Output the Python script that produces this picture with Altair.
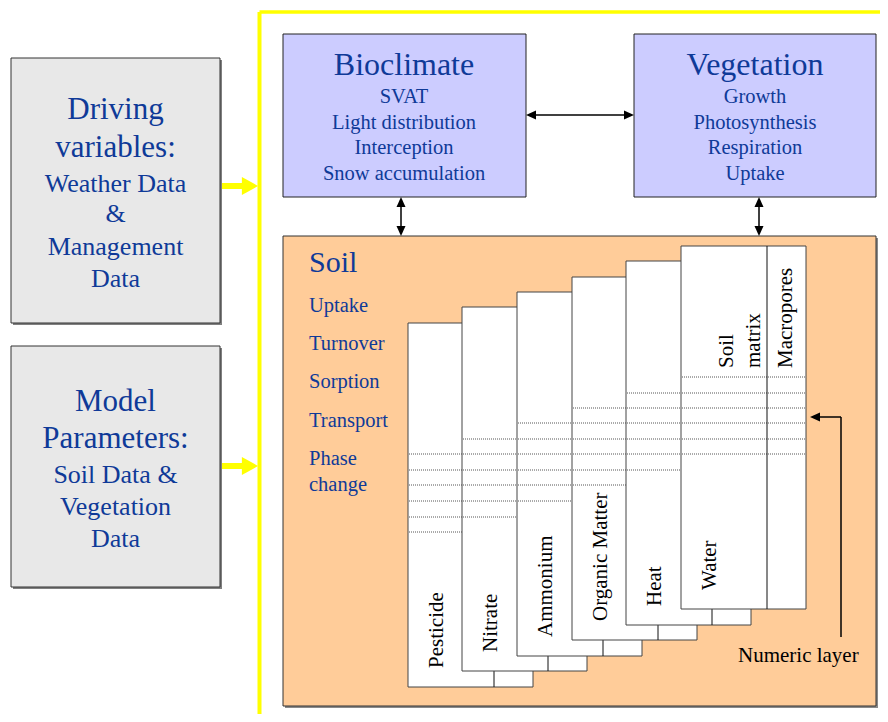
import altair as alt
import pandas as pd

# ---------------- content (text of the diagram) ----------------
driving_lines = ["Driving", "variables:", "Weather Data", "&", "Management", "Data"]
param_lines = ["Model", "Parameters:", "Soil Data &", "Vegetation", "Data"]
bioclimate_lines = ["Bioclimate", "SVAT", "Light distribution", "Interception", "Snow accumulation"]
vegetation_lines = ["Vegetation", "Growth", "Photosynthesis", "Respiration", "Uptake"]
soil_lines = ["Soil", "Uptake", "Turnover", "Sorption", "Transport", "Phase", "change"]
layer_names = ["Pesticide", "Nitrate", "Ammonium", "Organic Matter", "Heat", "Water"]
water_parts = ["Soil", "matrix", "Macropores"]
numeric_label = ["Numeric layer"]

# ---------------- layout (page pixel coordinates) ----------------
W, H, OFF = 872, 706, 8
FONT = "Liberation Serif"
BLUE_TXT = "#0f3a98"

driving_base = [119, 157, 192, 222, 255, 287]
driving_size = [31, 31, 26, 26, 26, 26]
param_base = [411, 448, 483, 515, 547]
param_size = [31, 31, 26, 26, 26]
box_base = [75, 103, 129, 154, 180]
box_size = [32, 20.5, 20.5, 20.5, 20.5]
soil_base = [272, 312, 350, 388, 427, 465, 491]
soil_size = [30, 20.5, 20.5, 20.5, 20.5, 20.5, 20.5]

card_left = [408, 462, 517, 572, 626, 681]
card_top = [323, 307, 292, 277, 261, 246]
card_bottom = [687, 671, 656, 640, 625, 609]
card_w = 125
card_div = 86
card_dots = [
    [454, 470, 485, 501, 517, 532],
    [439, 454, 470, 485, 501, 517],
    [423, 439, 454, 470, 485, 501],
    [408, 423, 439, 454, 470, 485],
    [393, 408, 423, 439, 454, 470],
    [377, 393, 408, 423, 439, 454],
]

XS = alt.Scale(domain=[OFF, OFF + W], nice=False, zero=False)
YS = alt.Scale(domain=[OFF, OFF + H], nice=False, zero=False, reverse=True)


def X(f):
    return alt.X(f"{f}:Q", scale=XS, axis=None)


def Y(f):
    return alt.Y(f"{f}:Q", scale=YS, axis=None)


def rects(rows, fill, stroke=None, sw=1):
    df = pd.DataFrame(rows, columns=["x0", "x1", "y0", "y1"])
    kw = dict(fill=fill, opacity=1)
    if stroke:
        kw.update(stroke=stroke, strokeWidth=sw)
    else:
        kw.update(strokeWidth=0)
    return alt.Chart(df).mark_rect(**kw).encode(
        x=X("x0"), x2=alt.X2("x1:Q"), y=Y("y0"), y2=alt.Y2("y1:Q"))


def rules(rows, color, sw=1, dash=None):
    df = pd.DataFrame(rows, columns=["x0", "x1", "y0", "y1"])
    kw = dict(color=color, strokeWidth=sw)
    if dash:
        kw["strokeDash"] = dash
    return alt.Chart(df).mark_rule(**kw).encode(
        x=X("x0"), x2=alt.X2("x1:Q"), y=Y("y0"), y2=alt.Y2("y1:Q"))


def texts(rows, align="center", angle=0, color=BLUE_TXT):
    df = pd.DataFrame(rows, columns=["t", "x", "y", "s"])
    return alt.Chart(df).mark_text(font=FONT, align=align, baseline="alphabetic",
                                   angle=angle, color=color).encode(
        x=X("x"), y=Y("y"), text=alt.Text("t:N"), size=alt.Size("s:Q", scale=None))


def heads(rows, path, size, color):
    df = pd.DataFrame(rows, columns=["x", "y", "a"])
    return alt.Chart(df).mark_point(shape=path, filled=True, opacity=1, color=color,
                                    size=size, strokeWidth=0).encode(
        x=X("x"), y=Y("y"), angle=alt.Angle("a:Q", scale=None))


TRI_BLACK = "M-1,-0.9L1,0L-1,0.9Z"
TRI_YELLOW = "M-0.9,-1L0.9,0L-0.9,1Z"
YELLOW = "#ffff00"

layers = []
# yellow frame + arrows
layers.append(rules([[259.5, 890, 12, 12]], YELLOW, 3.5))
layers.append(rules([[259.5, 259.5, 12, 730]], YELLOW, 4))
layers.append(rules([[220, 245, 186, 186], [220, 245, 466, 466]], YELLOW, 6))
layers.append(heads([[250, 186, 0], [250, 466, 0]], TRI_YELLOW, 324, YELLOW))

# grey input boxes
layers.append(rects([[13, 222, 60, 325], [13, 222, 348, 589]], "#808080"))
layers.append(rects([[11, 220, 58, 323], [11, 220, 346, 587]], "#e8e8e8", "#333333", 1))
layers.append(texts([[t, 115.5, b, s] for t, b, s in zip(driving_lines, driving_base, driving_size)]))
layers.append(texts([[t, 115.5, b, s] for t, b, s in zip(param_lines, param_base, param_size)]))

# blue process boxes
layers.append(rects([[283, 526, 34, 197], [634, 876, 34, 197]], "#ccccff", "#222222", 1))
layers.append(texts([[t, 404, b, s] for t, b, s in zip(bioclimate_lines, box_base, box_size)]))
layers.append(texts([[t, 755, b, s] for t, b, s in zip(vegetation_lines, box_base, box_size)]))

# soil box
layers.append(rects([[285, 878, 238, 708]], "#8a8a8a"))
layers.append(rects([[283, 876, 236, 706]], "#ffcc99", "#333333", 1))
layers.append(texts([[t, 309, b, s] for t, b, s in zip(soil_lines, soil_base, soil_size)], align="left"))

# stacked layer cards
for i in range(6):
    l, t, b = card_left[i], card_top[i], card_bottom[i]
    layers.append(rects([[l, l + card_w, t, b]], "#ffffff", "#444444", 1))
    layers.append(rules([[l + 1, l + card_w - 1, y, y] for y in card_dots[i]], "#555555", 1, [1, 1]))
    layers.append(rules([[l + card_div, l + card_div, t, b]], "#111111", 1))

layers.append(texts([[n, l + 35, b - 19, 21] for n, l, b in zip(layer_names, card_left, card_bottom)],
                    align="left", angle=270, color="#000000"))
layers.append(texts([[water_parts[0], 733, 368, 21], [water_parts[1], 760, 368, 21],
                     [water_parts[2], 792, 368, 21]], align="left", angle=270, color="#000000"))

# black arrows
layers.append(rules([[530, 630, 115, 115], [401, 401, 200, 233], [759, 759, 200, 233],
                     [820, 841, 417, 417], [841, 841, 417, 637]], "#000000", 1.5))
layers.append(heads([[531, 115, 180], [629, 115, 0], [401, 202, 270], [401, 231, 90],
                     [759, 202, 270], [759, 231, 90], [815, 417, 180]], TRI_BLACK, 100, "#000000"))
layers.append(texts([[numeric_label[0], 738, 662, 21]], align="left", color="#000000"))

chart = alt.layer(*layers).properties(
    width=W, height=H, padding=0, autosize=alt.AutoSizeParams(type="none")
).configure_view(stroke=None)

chart.save("out.html", embed_options={"renderer": "svg", "actions": False})
